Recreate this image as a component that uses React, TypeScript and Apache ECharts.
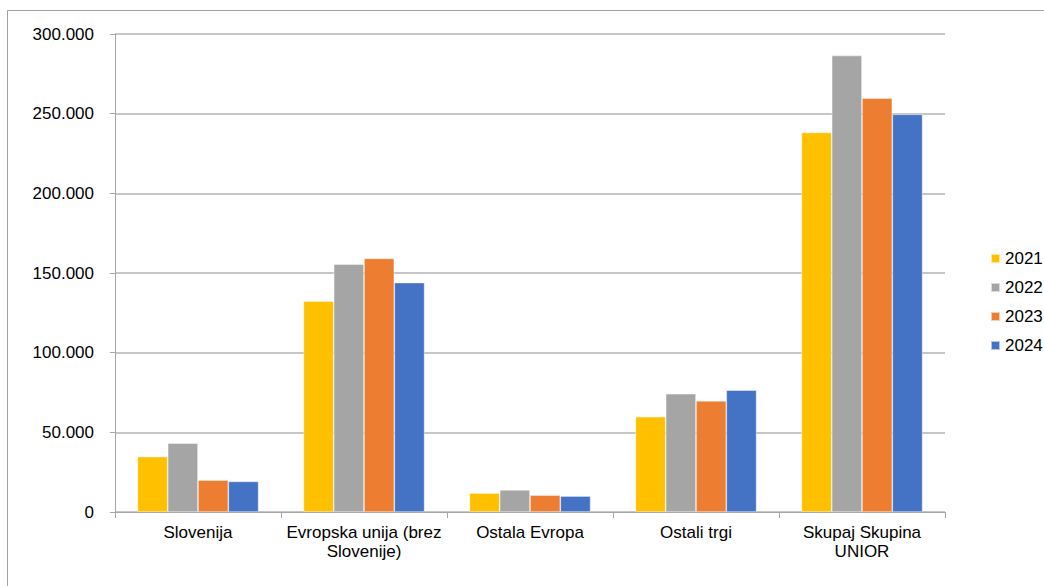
import React, { useEffect, useRef } from "react";
import * as echarts from "echarts";

const categories = [
  "Slovenija",
  "Evropska unija (brez\nSlovenije)",
  "Ostala Evropa",
  "Ostali trgi",
  "Skupaj Skupina\nUNIOR",
];
const years = ["2021", "2022", "2023", "2024"];
const values2021 = [34800, 132400, 11900, 59800, 238200];
const values2022 = [43200, 155600, 13900, 74200, 286500];
const values2023 = [20000, 159200, 10600, 69800, 259800];
const values2024 = [19200, 144000, 10000, 76500, 249600];
const colors = ["#FFC000", "#A5A5A5", "#ED7D31", "#4472C4"];
const yTicks = { min: 0, max: 300000, interval: 50000 };

const fmt = (v: number) => {
  if (v === 0) return "0";
  return String(v).replace(/\B(?=(\d{3})+(?!\d))/g, ".");
};

export default function App() {
  const ref = useRef<HTMLDivElement>(null);
  useEffect(() => {
    if (!ref.current) return;
    const chart = echarts.init(ref.current, undefined, { renderer: "svg" });
    const seriesData = [values2021, values2022, values2023, values2024];
    const font = "'Liberation Sans', Arial, sans-serif";
    chart.setOption({
      animation: false,
      backgroundColor: "#ffffff",
      textStyle: { fontFamily: font },
      graphic: [
        {
          type: "rect",
          shape: { x: 7.5, y: 10.5, width: 1100, height: 600 },
          style: { fill: "none", stroke: "#a0a0a0", lineWidth: 1 },
          silent: true,
        },
      ],
      grid: { left: 115, right: 99, top: 34, bottom: 74, containLabel: false },
      legend: {
        orient: "vertical",
        left: 985,
        top: 245,
        itemWidth: 9,
        itemHeight: 9,
        itemGap: 12,
        icon: "rect",
        textStyle: { fontSize: 17, color: "#000", fontFamily: font },
        data: years,
      },
      xAxis: {
        type: "category",
        data: categories,
        axisLine: { show: true, lineStyle: { color: "#a6a6a6", width: 1 } },
        axisTick: { show: true, length: 6, alignWithLabel: false, lineStyle: { color: "#a6a6a6" } },
        axisLabel: {
          color: "#000",
          fontSize: 17,
          fontFamily: font,
          lineHeight: 19,
          margin: 11,
          interval: 0,
        },
      },
      yAxis: {
        type: "value",
        min: yTicks.min,
        max: yTicks.max,
        interval: yTicks.interval,
        axisLine: { show: true, lineStyle: { color: "#a6a6a6", width: 1 } },
        axisTick: { show: true, length: 5, lineStyle: { color: "#a6a6a6" } },
        splitLine: { show: true, lineStyle: { color: "#b4b4b4", width: 1.5 } },
        axisLabel: {
          color: "#000",
          fontSize: 17,
          fontFamily: font,
          margin: 21,
          formatter: (v: number) => fmt(v),
        },
      },
      series: years.map((y, i) => ({
        name: y,
        type: "bar",
        data: seriesData[i],
        barGap: "0%",
        barCategoryGap: "27%",
        itemStyle: { color: colors[i], borderColor: "rgba(255,255,255,0.6)", borderWidth: 0.7 },
      })),
    });
    return () => chart.dispose();
  }, []);
  return (
    <div
      ref={ref}
      style={{ position: "fixed", left: 0, top: 0, width: 1044, height: 586 }}
    />
  );
}
